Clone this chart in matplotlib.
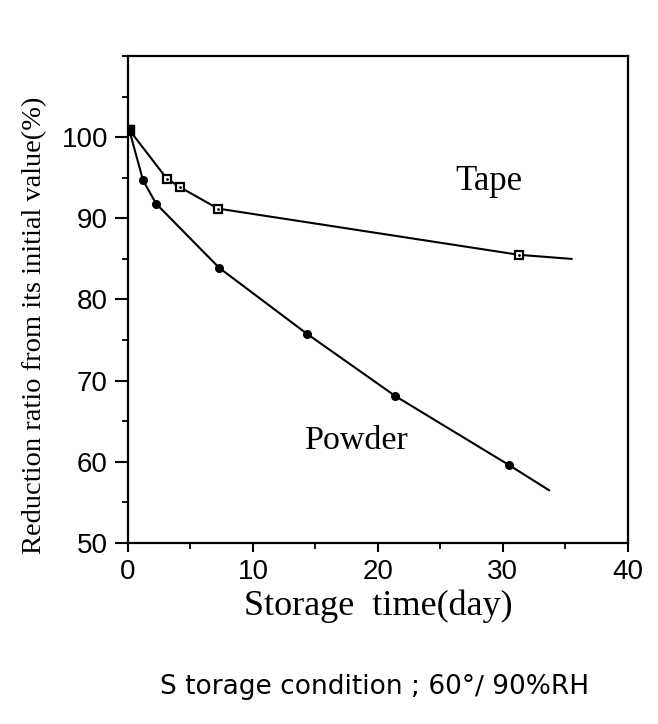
import matplotlib.pyplot as plt
from matplotlib.ticker import MultipleLocator

tape_days = [0.1, 3.1, 4.2, 7.2, 31.3]
tape_vals = [100.9, 94.9, 93.8, 91.2, 85.5]
tape_end = (35.5, 85.0)

powder_days = [0.1, 1.2, 2.25, 7.3, 14.3, 21.4, 30.5]
powder_vals = [100.9, 94.7, 91.8, 83.9, 75.8, 68.1, 59.6]
powder_end = (33.7, 56.5)

x_ticks = [0, 10, 20, 30, 40]
y_ticks = [50, 60, 70, 80, 90, 100]

serif = ['Liberation Serif', 'DejaVu Serif']
sans = ['Liberation Sans', 'DejaVu Sans']

fig = plt.figure(figsize=(6.58, 7.24), dpi=100)
ax = fig.add_axes([0.1945, 0.25, 0.7595, 0.6727])

# lines run past the last measured point
ax.plot(powder_days + [powder_end[0]], powder_vals + [powder_end[1]],
        color='black', lw=1.5, zorder=2)
ax.plot(powder_days, powder_vals, 'o', color='black', ms=5.5, zorder=3)

ax.plot(tape_days + [tape_end[0]], tape_vals + [tape_end[1]],
        color='black', lw=1.5, zorder=2)
ax.plot(tape_days, tape_vals, 's', mfc='white', mec='black', mew=1.6,
        ms=5.5, zorder=4)
ax.plot(tape_days, tape_vals, '.', color='black', ms=2, zorder=5)
# first point is drawn solid
ax.plot(tape_days[:1], tape_vals[:1], 's', color='black', ms=6.5, zorder=6)

ax.text(28.9, 94.5, 'Tape', family=serif, fontsize=25, ha='center', va='center')
ax.text(18.3, 62.6, 'Powder', family=serif, fontsize=24.5, ha='center', va='center')

ax.set_xlim(0, 40)
ax.set_ylim(50, 110)
ax.set_xticks(x_ticks)
ax.set_yticks(y_ticks)
ax.xaxis.set_minor_locator(MultipleLocator(5))
ax.yaxis.set_minor_locator(MultipleLocator(5))
ax.tick_params(which='major', direction='out', length=6.5, width=1.5,
               labelsize=20, pad=5)
ax.tick_params(which='minor', direction='out', length=4.3, width=1.3)
ax.tick_params(axis='y', which='major', length=9.4)
for lab in ax.get_xticklabels() + ax.get_yticklabels():
    lab.set_family(sans)
for sp in ax.spines.values():
    sp.set_linewidth(1.6)

ax.set_xlabel('Storage  time(day)', family=serif, fontsize=26, labelpad=3)
ax.set_ylabel('Reduction ratio from its initial value(%)', family=serif,
              fontsize=20.5)
ax.yaxis.set_label_coords(-0.162, 0.446)

fig.text(0.57, 0.051, 'S torage condition ; 60°\u2215 90%RH',
         family=['Liberation Sans Narrow', 'DejaVu Sans'], fontsize=19,
         ha='center', va='center')

fig.savefig('out.png', dpi=100)
